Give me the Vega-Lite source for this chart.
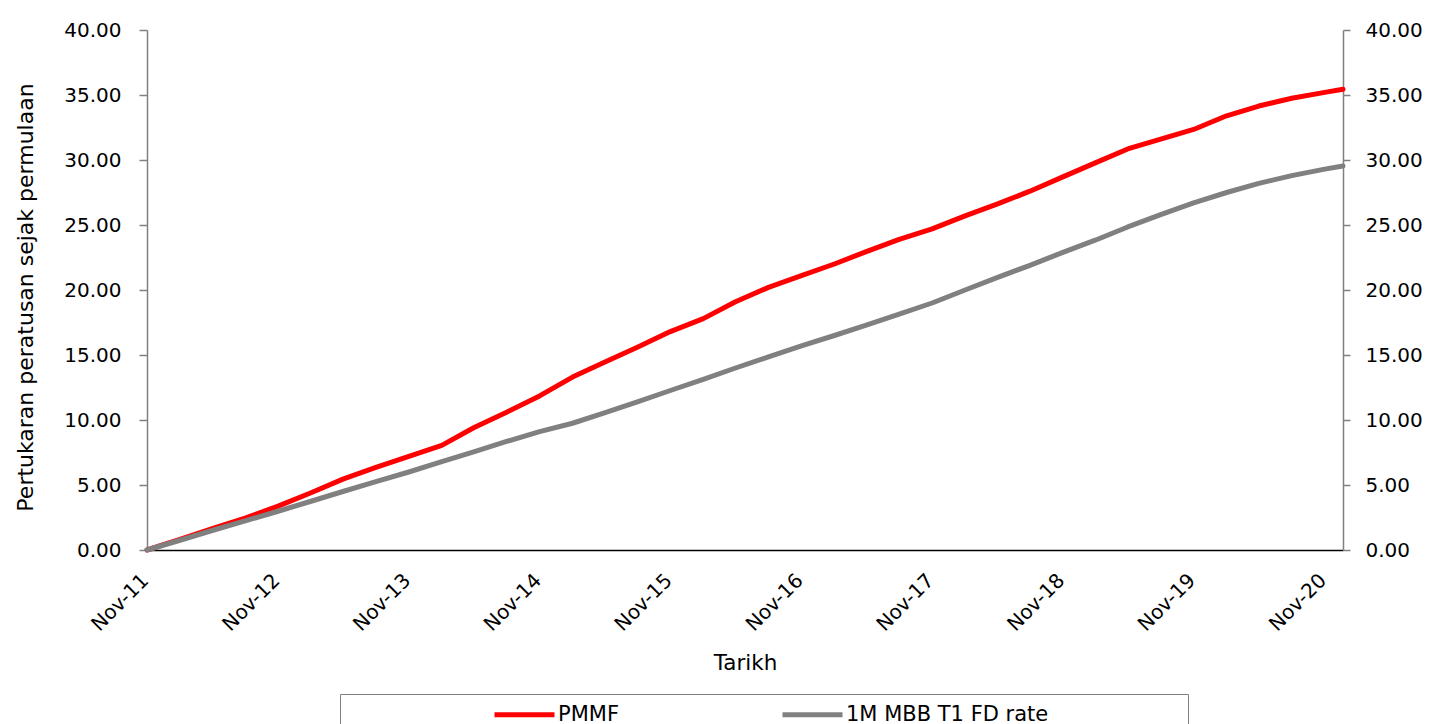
{
  "$schema": "https://vega.github.io/schema/vega-lite/v6.json",
  "width": 1196,
  "height": 520,
  "autosize": {"type": "none"},
  "padding": {"left": 147, "top": 30, "right": 86, "bottom": 174},
  "background": "white",
  "config": {
    "font": "DejaVu Sans",
    "view": {"stroke": null},
    "axis": {
      "grid": false,
      "labelFont": "DejaVu Sans",
      "titleFont": "DejaVu Sans",
      "labelColor": "#000000",
      "titleColor": "#000000",
      "labelFontSize": 20,
      "titleFontSize": 22,
      "titleFontWeight": "normal"
    },
    "legend": {"labelFont": "DejaVu Sans", "titleFont": "DejaVu Sans"}
  },
  "data": {
    "values": [
      {"date": "2011/11/01", "series": "PMMF", "value": 0},
      {"date": "2012/02/01", "series": "PMMF", "value": 0.82},
      {"date": "2012/05/01", "series": "PMMF", "value": 1.64},
      {"date": "2012/08/01", "series": "PMMF", "value": 2.46},
      {"date": "2012/11/01", "series": "PMMF", "value": 3.37},
      {"date": "2013/02/01", "series": "PMMF", "value": 4.4},
      {"date": "2013/05/01", "series": "PMMF", "value": 5.45},
      {"date": "2013/08/01", "series": "PMMF", "value": 6.35},
      {"date": "2013/11/01", "series": "PMMF", "value": 7.2},
      {"date": "2014/02/01", "series": "PMMF", "value": 8.05},
      {"date": "2014/05/01", "series": "PMMF", "value": 9.4},
      {"date": "2014/08/01", "series": "PMMF", "value": 10.6},
      {"date": "2014/11/01", "series": "PMMF", "value": 11.85},
      {"date": "2015/02/01", "series": "PMMF", "value": 13.3},
      {"date": "2015/05/01", "series": "PMMF", "value": 14.45},
      {"date": "2015/08/01", "series": "PMMF", "value": 15.6},
      {"date": "2015/11/01", "series": "PMMF", "value": 16.8},
      {"date": "2016/02/01", "series": "PMMF", "value": 17.8},
      {"date": "2016/05/01", "series": "PMMF", "value": 19.1},
      {"date": "2016/08/01", "series": "PMMF", "value": 20.2},
      {"date": "2016/11/01", "series": "PMMF", "value": 21.1},
      {"date": "2017/02/01", "series": "PMMF", "value": 22.0},
      {"date": "2017/05/01", "series": "PMMF", "value": 22.95},
      {"date": "2017/08/01", "series": "PMMF", "value": 23.9},
      {"date": "2017/11/01", "series": "PMMF", "value": 24.7},
      {"date": "2018/02/01", "series": "PMMF", "value": 25.7},
      {"date": "2018/05/01", "series": "PMMF", "value": 26.6},
      {"date": "2018/08/01", "series": "PMMF", "value": 27.6},
      {"date": "2018/11/01", "series": "PMMF", "value": 28.7},
      {"date": "2019/02/01", "series": "PMMF", "value": 29.8},
      {"date": "2019/05/01", "series": "PMMF", "value": 30.85},
      {"date": "2019/08/01", "series": "PMMF", "value": 31.6},
      {"date": "2019/11/01", "series": "PMMF", "value": 32.35},
      {"date": "2020/02/01", "series": "PMMF", "value": 33.4},
      {"date": "2020/05/01", "series": "PMMF", "value": 34.15},
      {"date": "2020/08/01", "series": "PMMF", "value": 34.75},
      {"date": "2020/11/01", "series": "PMMF", "value": 35.2},
      {"date": "2020/12/22", "series": "PMMF", "value": 35.44},
      {"date": "2011/11/01", "series": "1M MBB T1 FD rate", "value": 0},
      {"date": "2012/02/01", "series": "1M MBB T1 FD rate", "value": 0.75},
      {"date": "2012/05/01", "series": "1M MBB T1 FD rate", "value": 1.5},
      {"date": "2012/08/01", "series": "1M MBB T1 FD rate", "value": 2.24},
      {"date": "2012/11/01", "series": "1M MBB T1 FD rate", "value": 2.98},
      {"date": "2013/02/01", "series": "1M MBB T1 FD rate", "value": 3.75},
      {"date": "2013/05/01", "series": "1M MBB T1 FD rate", "value": 4.5},
      {"date": "2013/08/01", "series": "1M MBB T1 FD rate", "value": 5.26},
      {"date": "2013/11/01", "series": "1M MBB T1 FD rate", "value": 6.0},
      {"date": "2014/02/01", "series": "1M MBB T1 FD rate", "value": 6.8},
      {"date": "2014/05/01", "series": "1M MBB T1 FD rate", "value": 7.55},
      {"date": "2014/08/01", "series": "1M MBB T1 FD rate", "value": 8.35},
      {"date": "2014/11/01", "series": "1M MBB T1 FD rate", "value": 9.1},
      {"date": "2015/02/01", "series": "1M MBB T1 FD rate", "value": 9.75},
      {"date": "2015/05/01", "series": "1M MBB T1 FD rate", "value": 10.55},
      {"date": "2015/08/01", "series": "1M MBB T1 FD rate", "value": 11.4},
      {"date": "2015/11/01", "series": "1M MBB T1 FD rate", "value": 12.27},
      {"date": "2016/02/01", "series": "1M MBB T1 FD rate", "value": 13.13},
      {"date": "2016/05/01", "series": "1M MBB T1 FD rate", "value": 14.0},
      {"date": "2016/08/01", "series": "1M MBB T1 FD rate", "value": 14.85},
      {"date": "2016/11/01", "series": "1M MBB T1 FD rate", "value": 15.7},
      {"date": "2017/02/01", "series": "1M MBB T1 FD rate", "value": 16.5},
      {"date": "2017/05/01", "series": "1M MBB T1 FD rate", "value": 17.3},
      {"date": "2017/08/01", "series": "1M MBB T1 FD rate", "value": 18.15},
      {"date": "2017/11/01", "series": "1M MBB T1 FD rate", "value": 19.0},
      {"date": "2018/02/01", "series": "1M MBB T1 FD rate", "value": 20.0},
      {"date": "2018/05/01", "series": "1M MBB T1 FD rate", "value": 20.95},
      {"date": "2018/08/01", "series": "1M MBB T1 FD rate", "value": 21.9},
      {"date": "2018/11/01", "series": "1M MBB T1 FD rate", "value": 22.9},
      {"date": "2019/02/01", "series": "1M MBB T1 FD rate", "value": 23.85},
      {"date": "2019/05/01", "series": "1M MBB T1 FD rate", "value": 24.85},
      {"date": "2019/08/01", "series": "1M MBB T1 FD rate", "value": 25.8},
      {"date": "2019/11/01", "series": "1M MBB T1 FD rate", "value": 26.7},
      {"date": "2020/02/01", "series": "1M MBB T1 FD rate", "value": 27.5},
      {"date": "2020/05/01", "series": "1M MBB T1 FD rate", "value": 28.2},
      {"date": "2020/08/01", "series": "1M MBB T1 FD rate", "value": 28.8},
      {"date": "2020/11/01", "series": "1M MBB T1 FD rate", "value": 29.3},
      {"date": "2020/12/22", "series": "1M MBB T1 FD rate", "value": 29.54}
    ]
  },
  "encoding": {
    "x": {
      "field": "date",
      "type": "temporal",
      "title": "Tarikh",
      "scale": {
        "domain": [
          {"year": 2011, "month": 11, "date": 1},
          {"year": 2020, "month": 12, "date": 22}
        ]
      },
      "axis": {
        "values": [
          {"year": 2011, "month": 11, "date": 1},
          {"year": 2012, "month": 11, "date": 1},
          {"year": 2013, "month": 11, "date": 1},
          {"year": 2014, "month": 11, "date": 1},
          {"year": 2015, "month": 11, "date": 1},
          {"year": 2016, "month": 11, "date": 1},
          {"year": 2017, "month": 11, "date": 1},
          {"year": 2018, "month": 11, "date": 1},
          {"year": 2019, "month": 11, "date": 1},
          {"year": 2020, "month": 11, "date": 1}
        ],
        "format": "%b-%y",
        "labelAngle": -45,
        "labelAlign": "right",
        "labelBaseline": "top",
        "labelPadding": 20,
        "labelOffset": -9,
        "ticks": false,
        "domainColor": "#000000",
        "domainWidth": 1.5,
        "titleFontSize": 21.5,
        "titlePadding": 18
      }
    },
    "color": {
      "field": "series",
      "type": "nominal",
      "scale": {
        "domain": ["PMMF", "1M MBB T1 FD rate"],
        "range": ["#FF0000", "#808080"]
      },
      "legend": {
        "orient": "none",
        "legendX": 193,
        "legendY": 664,
        "direction": "horizontal",
        "columns": 2,
        "title": "\u00a0",
        "titleOrient": "right",
        "titlePadding": 132,
        "titleFontSize": 20,
        "padding": 8,
        "strokeColor": "#808080",
        "symbolType": "M-3,0H3",
        "symbolSize": 400,
        "symbolStrokeWidth": 5,
        "symbolOffset": 164,
        "labelFontSize": 21,
        "labelColor": "#000000",
        "labelOffset": 21,
        "labelLimit": 500,
        "columnPadding": 17
      }
    }
  },
  "layer": [
    {
      "transform": [{"filter": "datum.series === 'PMMF'"}],
      "mark": {"type": "line", "strokeWidth": 5, "strokeCap": "round", "strokeJoin": "round"},
      "encoding": {
        "y": {
          "field": "value",
          "type": "quantitative",
          "title": "Pertukaran peratusan sejak permulaan",
          "scale": {"domain": [0, 40]},
          "axis": {
            "orient": "left",
            "values": [0, 5, 10, 15, 20, 25, 30, 35, 40],
            "format": ".2f",
            "domainColor": "#808080",
            "domainWidth": 1.5,
            "tickColor": "#808080",
            "tickWidth": 1.5,
            "tickSize": 8,
            "labelPadding": 18,
            "titlePadding": 26,
            "titleY": 267
          }
        }
      }
    },
    {
      "transform": [{"filter": "datum.series !== 'PMMF'"}],
      "mark": {"type": "line", "strokeWidth": 5, "strokeCap": "round", "strokeJoin": "round"},
      "encoding": {
        "y": {
          "field": "value",
          "type": "quantitative",
          "scale": {"domain": [0, 40]},
          "axis": {
            "orient": "right",
            "title": null,
            "values": [0, 5, 10, 15, 20, 25, 30, 35, 40],
            "format": ".2f",
            "domainColor": "#808080",
            "domainWidth": 1.5,
            "tickColor": "#808080",
            "tickWidth": 1.5,
            "tickSize": 7,
            "labelPadding": 15
          }
        }
      }
    }
  ],
  "resolve": {"scale": {"y": "independent"}}
}
